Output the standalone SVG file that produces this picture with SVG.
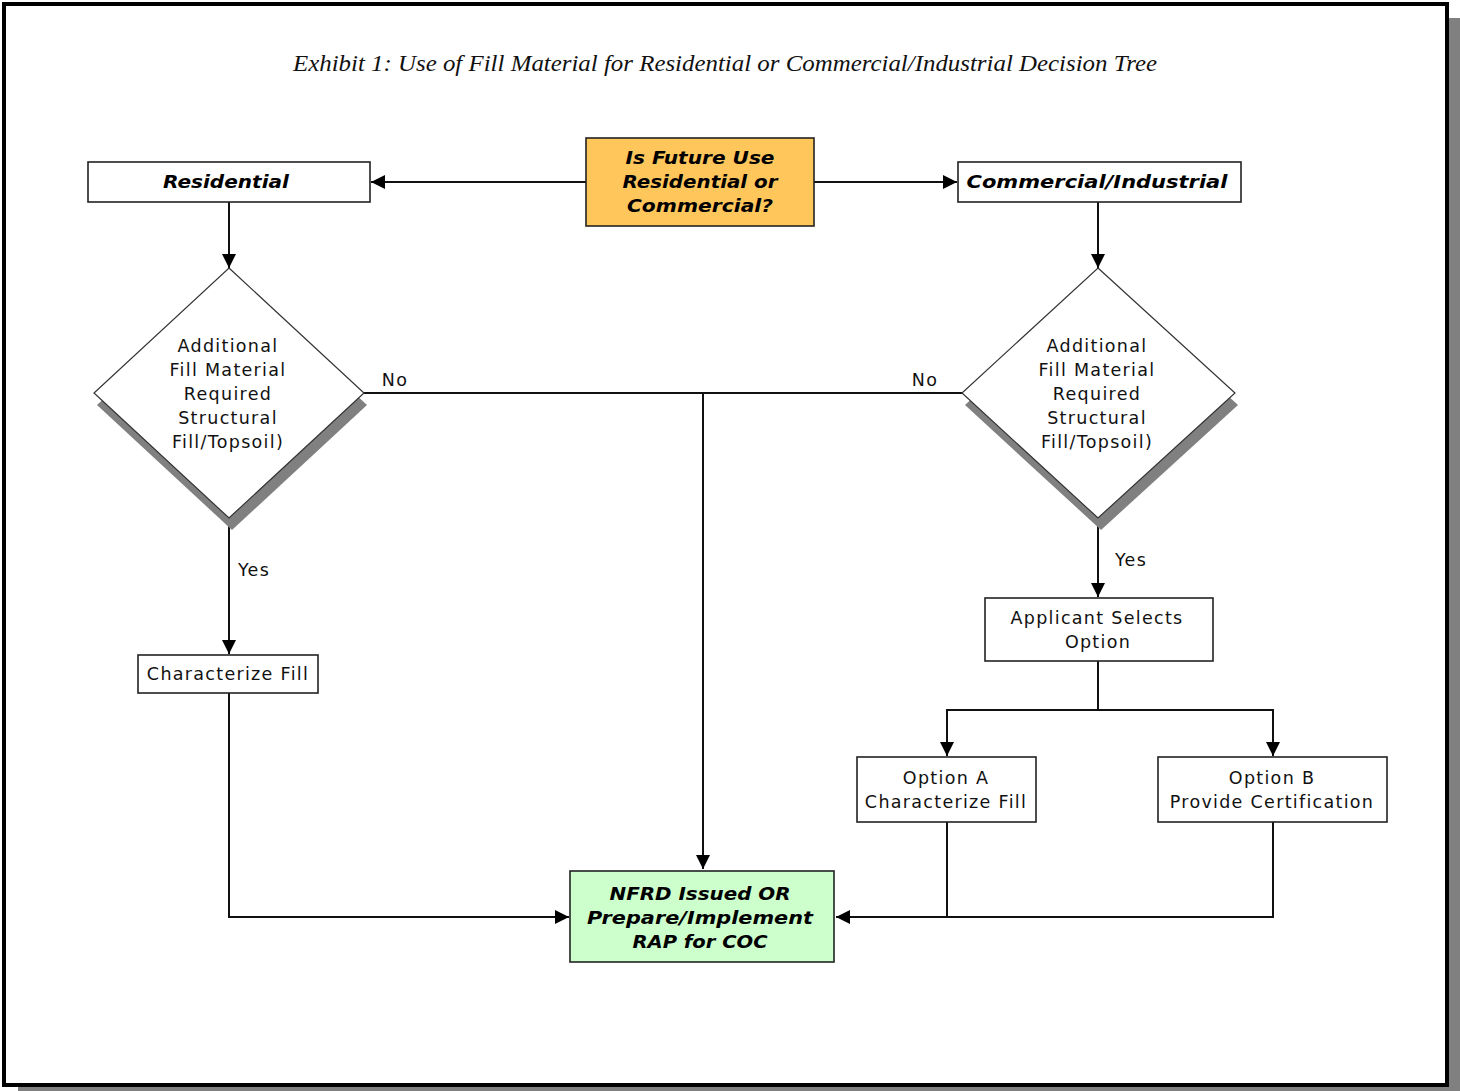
<svg xmlns="http://www.w3.org/2000/svg" width="1460" height="1091" viewBox="0 0 1460 1091">
<style>
.box{fill:#fff;stroke:#222;stroke-width:1.6}
.dia{fill:#fff;stroke:#333;stroke-width:1.2}
.shadow{fill:#808080}
.line{fill:none;stroke:#111;stroke-width:2}
.t{font-family:"DejaVu Sans",Verdana,sans-serif;font-size:17.5px;letter-spacing:1.3px;fill:#111;text-anchor:middle}
.b{font-family:"DejaVu Sans",Verdana,sans-serif;font-size:17px;font-weight:bold;font-style:italic;fill:#000;text-anchor:middle}
.title{font-family:"Liberation Serif","Times New Roman",serif;font-size:23px;font-style:italic;fill:#111;text-anchor:middle}
</style>
<defs>
<marker id="arr" viewBox="0 0 14 14" refX="14" refY="7" markerWidth="14" markerHeight="14" markerUnits="userSpaceOnUse" orient="auto">
<path d="M0,0 L14,7 L0,14 Z" fill="#000"/>
</marker>
</defs>
<rect x="0" y="0" width="1460" height="1091" fill="#fff"/>
<rect x="18" y="18" width="1442" height="1073" fill="#808080"/>
<rect x="4" y="4" width="1443" height="1081" fill="#fff" stroke="#000" stroke-width="4"/>
<text class="title" x="725" y="71" textLength="864" lengthAdjust="spacingAndGlyphs">Exhibit 1:  Use of Fill Material for Residential or Commercial/Industrial Decision Tree</text>

<g id="connectors">
<path class="line" d="M586,182 H371" marker-end="url(#arr)"/>
<path class="line" d="M814,182 H957" marker-end="url(#arr)"/>
<path class="line" d="M229,202 V268" marker-end="url(#arr)"/>
<path class="line" d="M1098,202 V268" marker-end="url(#arr)"/>
<path class="line" d="M364,393 H962"/>
<path class="line" d="M703,393 V869" marker-end="url(#arr)"/>
<path class="line" d="M229,518 V654" marker-end="url(#arr)"/>
<path class="line" d="M229,693 V917 H569" marker-end="url(#arr)"/>
<path class="line" d="M1098,518 V597" marker-end="url(#arr)"/>
<path class="line" d="M1098,661 V710 H947 V756" marker-end="url(#arr)"/>
<path class="line" d="M1098,710 H1273 V756" marker-end="url(#arr)"/>
<path class="line" d="M947,822 V917"/>
<path class="line" d="M1273,822 V917 H836" marker-end="url(#arr)"/>
<text class="t" x="395" y="386">No</text>
<text class="t" x="925" y="386">No</text>
<text class="t" x="254" y="576">Yes</text>
<text class="t" x="1131" y="566">Yes</text>
</g>

<g id="residential">
<rect class="box" x="88" y="162" width="282" height="40"/>
<text class="b" x="226" y="188" textLength="126" lengthAdjust="spacingAndGlyphs">Residential</text>
</g>

<g id="future-use">
<rect x="586" y="138" width="228" height="88" fill="#FFC65C" stroke="#222" stroke-width="1.6"/>
<text class="b" x="700" y="164" textLength="149" lengthAdjust="spacingAndGlyphs">Is Future Use</text>
<text class="b" x="700" y="188" textLength="155" lengthAdjust="spacingAndGlyphs">Residential or</text>
<text class="b" x="700" y="212" textLength="146" lengthAdjust="spacingAndGlyphs">Commercial?</text>
</g>

<g id="commercial">
<rect class="box" x="958" y="162" width="283" height="40"/>
<text class="b" x="1097" y="188" textLength="261" lengthAdjust="spacingAndGlyphs">Commercial/Industrial</text>
</g>

<g id="diamond-left">
<polygon class="shadow" points="232,280 367,405 232,530 97,405"/>
<polygon class="dia" points="229,268 364,393 229,518 94,393"/>
<text class="t" x="228" y="352">Additional</text>
<text class="t" x="228" y="376">Fill Material</text>
<text class="t" x="228" y="400">Required</text>
<text class="t" x="228" y="424">Structural</text>
<text class="t" x="228" y="448">Fill/Topsoil)</text>
</g>

<g id="diamond-right">
<polygon class="shadow" points="1101,280 1238,405 1101,530 965,405"/>
<polygon class="dia" points="1098,268 1235,393 1098,518 962,393"/>
<text class="t" x="1097" y="352">Additional</text>
<text class="t" x="1097" y="376">Fill Material</text>
<text class="t" x="1097" y="400">Required</text>
<text class="t" x="1097" y="424">Structural</text>
<text class="t" x="1097" y="448">Fill/Topsoil)</text>
</g>

<g id="characterize-fill">
<rect class="box" x="138" y="655" width="180" height="38"/>
<text class="t" x="228" y="680">Characterize Fill</text>
</g>

<g id="applicant-selects">
<rect class="box" x="985" y="598" width="228" height="63"/>
<text class="t" x="1097" y="624">Applicant Selects</text>
<text class="t" x="1098" y="648">Option</text>
</g>

<g id="option-a">
<rect class="box" x="857" y="757" width="179" height="65"/>
<text class="t" x="946" y="784">Option A</text>
<text class="t" x="946" y="808">Characterize Fill</text>
</g>

<g id="option-b">
<rect class="box" x="1158" y="757" width="229" height="65"/>
<text class="t" x="1272" y="784">Option B</text>
<text class="t" x="1272" y="808">Provide Certification</text>
</g>

<g id="nfrd">
<rect x="570" y="871" width="264" height="91" fill="#CCFFCC" stroke="#222" stroke-width="1.6"/>
<text class="b" x="700" y="900" textLength="181" lengthAdjust="spacingAndGlyphs">NFRD Issued OR</text>
<text class="b" x="700" y="924" textLength="226" lengthAdjust="spacingAndGlyphs">Prepare/Implement</text>
<text class="b" x="700" y="948" textLength="135" lengthAdjust="spacingAndGlyphs">RAP for COC</text>
</g>
</svg>
